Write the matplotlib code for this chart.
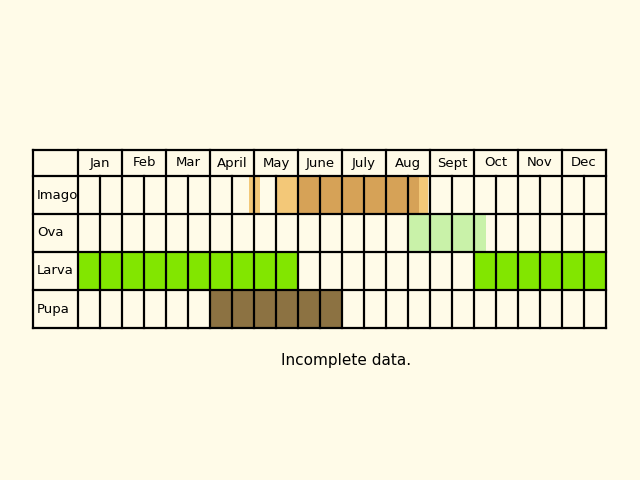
import matplotlib.pyplot as plt

months = ['Jan', 'Feb', 'Mar', 'April', 'May', 'June', 'July', 'Aug', 'Sept', 'Oct', 'Nov', 'Dec']
stages = ['Imago', 'Ova', 'Larva', 'Pupa']
# spans in half-month units: (stage, start, end, colour)
imago_light = [(7.75, 8.25), (9, 10), (15.5, 15.9)]
imago_dark = [(10, 15.5)]
ova_spans = [(15, 18.55)]
larva_spans = [(0, 10), (18, 24)]
pupa_spans = [(6, 12)]

bg = '#fffbe8'
fig = plt.figure(figsize=(6.4, 4.8), dpi=100, facecolor=bg)
ax = fig.add_axes([0, 0, 1, 1])
ax.set_xlim(0, 640)
ax.set_ylim(480, 0)
ax.axis('off')

x0, cw = 78, 22
lab_x = 33
top, head_h, row_h = 150, 26, 38
row_top = [top + head_h + i * row_h for i in range(len(stages))]

def fill(row, spans, col):
    for a, b in spans:
        ax.barh(row_top[row] + row_h / 2, (b - a) * cw, left=x0 + a * cw,
                height=row_h, color=col, edgecolor='none', zorder=1)

fill(0, imago_light, '#f3c878')
fill(0, imago_dark, '#d6a257')
fill(1, ova_spans, '#c9f2a9')
fill(2, larva_spans, '#82e600')
fill(3, pupa_spans, '#8c7242')

right = x0 + 24 * cw
bottom = row_top[-1] + row_h
lw = 1.6
# horizontal lines
for y in [top] + row_top + [bottom]:
    ax.plot([lab_x, right], [y, y], color='black', lw=lw, zorder=3)
# vertical lines
ax.plot([lab_x, lab_x], [top, bottom], color='black', lw=lw, zorder=3)
for i in range(25):
    x = x0 + i * cw
    y_start = top if i % 2 == 0 else top + head_h
    ax.plot([x, x], [y_start, bottom], color='black', lw=lw, zorder=3)

for i, m in enumerate(months):
    ax.text(x0 + (2 * i + 1) * cw, top + head_h / 2, m, ha='center', va='center', fontsize=9.5)
for r, s in enumerate(stages):
    ax.text(lab_x + 4, row_top[r] + row_h / 2, s, ha='left', va='center', fontsize=9.5)

ax.text(346, 360, 'Incomplete data.', ha='center', va='center', fontsize=11)

fig.savefig('out.png', dpi=100, facecolor=bg)
